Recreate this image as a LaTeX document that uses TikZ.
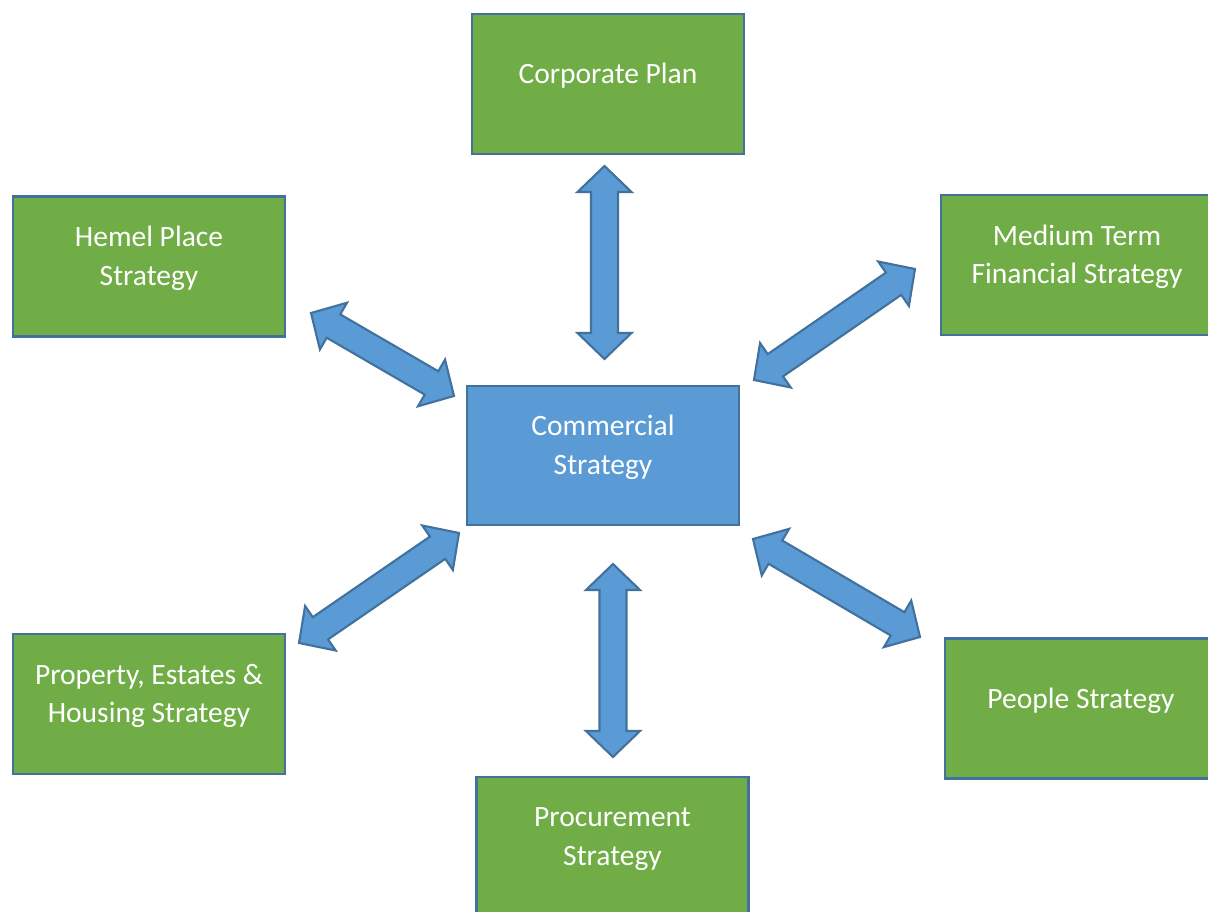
\documentclass[tikz,border=0pt]{standalone}
\usepackage{fontspec}
\setmainfont{Carlito}
\usetikzlibrary{calc}
\definecolor{boxgreen}{HTML}{70AD47}
\definecolor{boxblue}{HTML}{5B9BD5}
\definecolor{edgeblue}{HTML}{41719C}
% double headed block arrow between two named points
\newcommand\blockarrow[2]{%
\draw[arrowbody](#1)--($(#1)!0.26cm!(#2)!0.27cm!90:(#2)$)--($(#1)!0.26cm!(#2)!0.135cm!90:(#2)$)
  --($(#2)!0.26cm!(#1)!0.135cm!-90:(#1)$)--($(#2)!0.26cm!(#1)!0.27cm!-90:(#1)$)--(#2)
  --($(#2)!0.26cm!(#1)!0.27cm!90:(#1)$)--($(#2)!0.26cm!(#1)!0.135cm!90:(#1)$)
  --($(#1)!0.26cm!(#2)!0.135cm!-90:(#2)$)--($(#1)!0.26cm!(#2)!0.27cm!-90:(#2)$)--cycle;}

\begin{document}
\begin{tikzpicture}[x=1cm,y=-1cm,
    greenbox/.style={draw=edgeblue,fill=boxgreen,line width=0.65pt,
        minimum width=2.72cm,minimum height=1.40cm,inner sep=0pt},
    bluebox/.style={greenbox,fill=boxblue,minimum height=1.39cm},
    boxtext/.style={text=white,align=center,
        font={\fontsize{8.4}{11}\selectfont},yshift=2.3pt},
    arrowbody/.style={draw=edgeblue,fill=boxblue,line width=0.6pt,line join=miter}]
\useasboundingbox(0,0) rectangle (12.08,9.12);
\clip(0,0) rectangle (12.08,9.12);

\node[greenbox](corp) at (6.08,0.84){};
\node[boxtext](corp-t) at (corp){Corporate Plan};
\node[greenbox](hemel) at (1.49,2.665){};
\node[boxtext](hemel-t) at (hemel){Hemel Place\\Strategy};
\node[greenbox](mtfs) at (10.77,2.65){};
\node[boxtext](mtfs-t) at (mtfs){Medium Term\\Financial Strategy};
\node[bluebox](comm) at (6.03,4.555){};
\node[boxtext](comm-t) at (comm){Commercial\\Strategy};
\node[greenbox](peh) at (1.49,7.04){};
\node[boxtext](peh-t) at (peh){Property, Estates \&\\Housing Strategy};
\node[greenbox](people) at (10.81,7.085){};
\node[boxtext](people-t) at (people){People Strategy};
\node[greenbox](proc) at (6.125,8.47){};
\node[boxtext](proc-t) at (proc){Procurement\\Strategy};

%arrow tips
\coordinate(corp-s) at (6.045,1.66);
\coordinate(comm-n) at (6.045,3.59);
\coordinate(comm-s) at (6.13,5.64);
\coordinate(proc-n) at (6.13,7.57);
\coordinate(hemel-se) at (3.11,3.13);
\coordinate(comm-nw) at (4.54,3.96);
\coordinate(mtfs-sw) at (9.15,2.69);
\coordinate(comm-ne) at (7.54,3.80);
\coordinate(comm-sw) at (4.59,5.33);
\coordinate(peh-ne) at (2.99,6.43);
\coordinate(comm-se) at (7.53,5.39);
\coordinate(people-nw) at (9.20,6.37);

\blockarrow{corp-s}{comm-n}
\blockarrow{comm-s}{proc-n}
\blockarrow{hemel-se}{comm-nw}
\blockarrow{mtfs-sw}{comm-ne}
\blockarrow{comm-sw}{peh-ne}
\blockarrow{comm-se}{people-nw}
\end{tikzpicture}
\end{document}
